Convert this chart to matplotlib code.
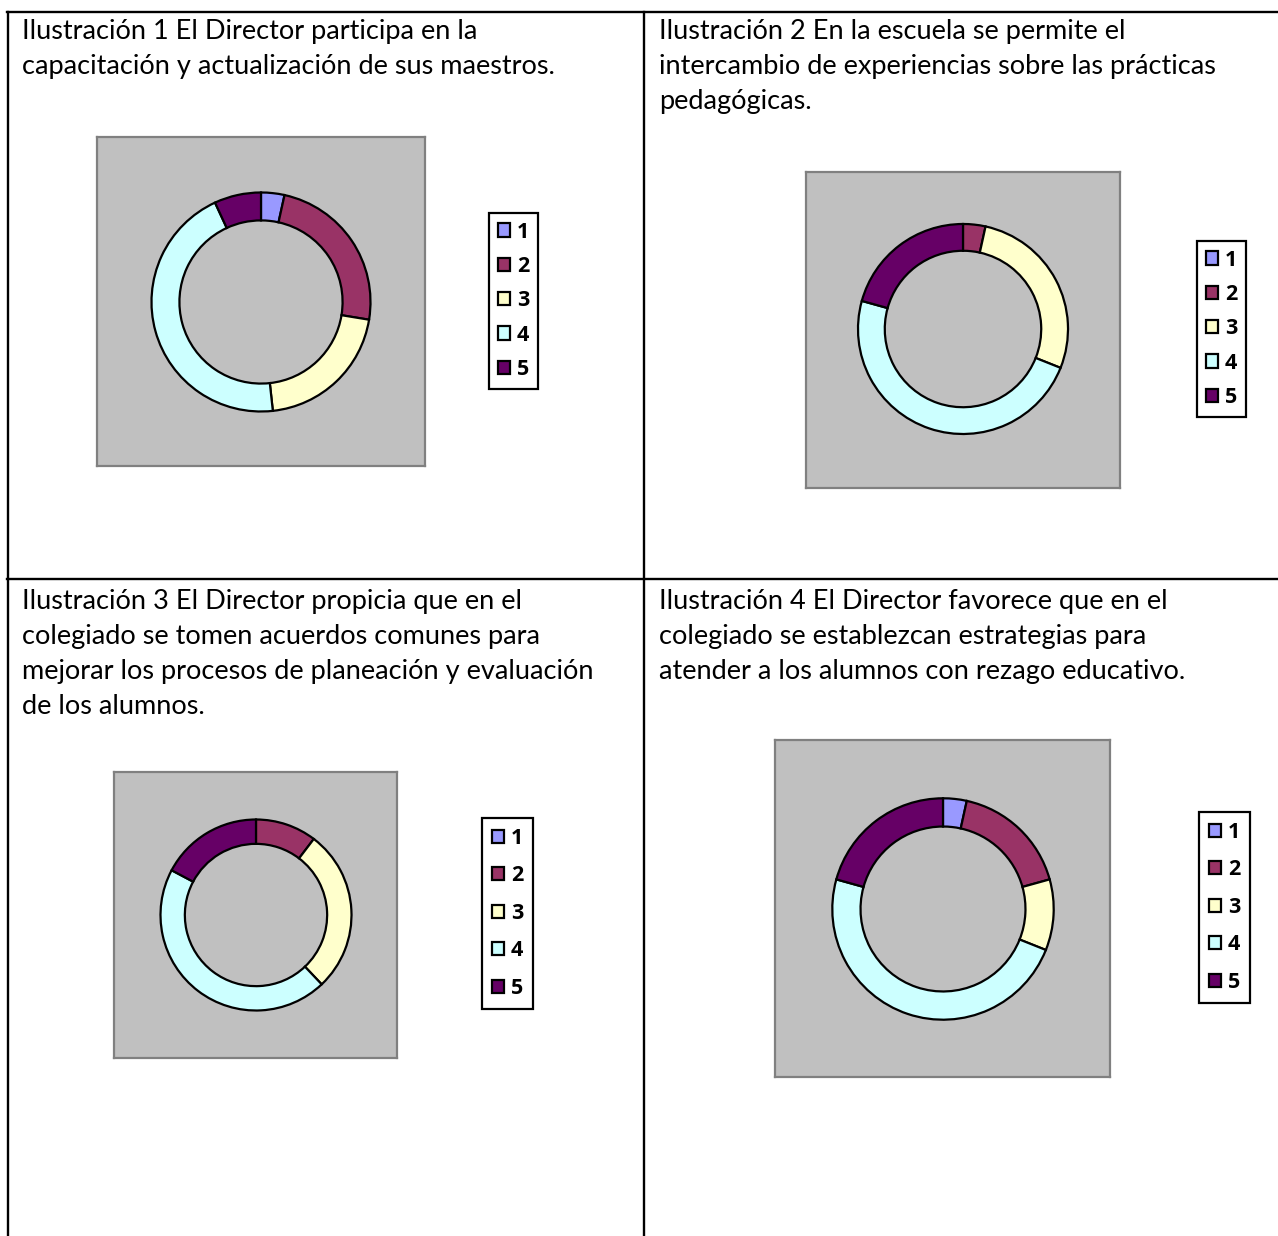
import matplotlib
matplotlib.use("Agg")
import matplotlib.pyplot as plt
from matplotlib.lines import Line2D

W, H = 1278, 1236
FONT = "Lato"
LEGEND_FONT = "Open Sans"

# Response scale 1..5 shared by all four questions
categories = ["1", "2", "3", "4", "5"]
colors = ["#9999FF", "#993366", "#FFFFCC", "#CCFFFF", "#660066"]

# Number of answers per response option
vals_1 = [1, 7, 6, 13, 2]
vals_2 = [0, 1, 8, 14, 6]
vals_3 = [0, 3, 8, 13, 5]
vals_4 = [1, 5, 3, 14, 6]

title_1 = ["Ilustración 1 El Director participa en la",
           "capacitación y actualización de sus maestros."]
title_2 = ["Ilustración 2 En la escuela se permite el",
           "intercambio de experiencias sobre las prácticas",
           "pedagógicas."]
title_3 = ["Ilustración 3 El Director propicia que en el",
           "colegiado se tomen acuerdos comunes para",
           "mejorar los procesos de planeación y evaluación",
           "de los alumnos."]
title_4 = ["Ilustración 4 El Director favorece que en el",
           "colegiado se establezcan estrategias para",
           "atender a los alumnos con rezago educativo."]

fig = plt.figure(figsize=(W / 100, H / 100), dpi=100)
bg = fig.add_axes([0, 0, 1, 1])
bg.set_xlim(0, W)
bg.set_ylim(H, 0)
bg.axis("off")

# table grid
grid_lw = 1.7
for (xa, xb, ya, yb) in [(7, W, 12, 12), (7, W, 579, 579),
                         (7.5, 7.5, 12, H), (644, 644, 12, H)]:
    bg.add_line(Line2D([xa, xb], [ya, yb], color="black", lw=grid_lw,
                       solid_capstyle="projecting"))

LINE_STEP = 34.7
TITLE_SIZE = 19.5


def draw_title(lines, x, y0):
    for i, line in enumerate(lines):
        bg.text(x, y0 + i * LINE_STEP, line, family=FONT, fontsize=TITLE_SIZE,
                va="baseline", ha="left", color="black")


def donut(values, box, center, radius, legend_xy, spacing, pad):
    x0, y0, x1, y1 = box
    ax = fig.add_axes([x0 / W, 1 - y1 / H, (x1 - x0) / W, (y1 - y0) / H])
    wedges, _ = ax.pie(values, colors=colors, startangle=90, counterclock=False,
                       radius=radius, center=(center[0], H - center[1]),
                       wedgeprops=dict(width=radius * 0.255, edgecolor="black",
                                       linewidth=1.6),
                       frame=True)
    ax.set_xlim(x0, x1)
    ax.set_ylim(H - y1, H - y0)
    ax.set_aspect("auto")
    ax.set_facecolor("#C0C0C0")
    ax.set_xticks([])
    ax.set_yticks([])
    for s in ax.spines.values():
        s.set_edgecolor("#808080")
        s.set_linewidth(1.6)
    lx, ly = legend_xy
    leg = fig.legend(wedges, categories, loc="upper left",
                     bbox_to_anchor=(lx / W, 1 - ly / H),
                     bbox_transform=fig.transFigure, borderaxespad=0,
                     prop=dict(family=LEGEND_FONT, weight="bold", size=15.5),
                     handlelength=0.56, handleheight=0.56, handletextpad=0.33,
                     labelspacing=spacing, borderpad=pad,
                     fancybox=False, framealpha=1, edgecolor="black")
    leg.get_frame().set_linewidth(1.6)


draw_title(title_1, 22, 39.5)
draw_title(title_2, 659, 39.5)
draw_title(title_3, 22, 609.5)
draw_title(title_4, 659, 609.5)

donut(vals_1, (97, 137, 425, 466), (261, 302), 109.5, (489, 213), 0.62, 0.40)
donut(vals_2, (806, 172, 1120, 488), (963, 329), 105, (1197, 241), 0.62, 0.40)
donut(vals_3, (114, 772, 397, 1058), (256, 915), 95.5, (482, 818), 0.77, 0.45)
donut(vals_4, (775, 740, 1110, 1077), (943, 909), 110.7, (1199, 812), 0.77, 0.45)

fig.savefig("out.png", dpi=100)
